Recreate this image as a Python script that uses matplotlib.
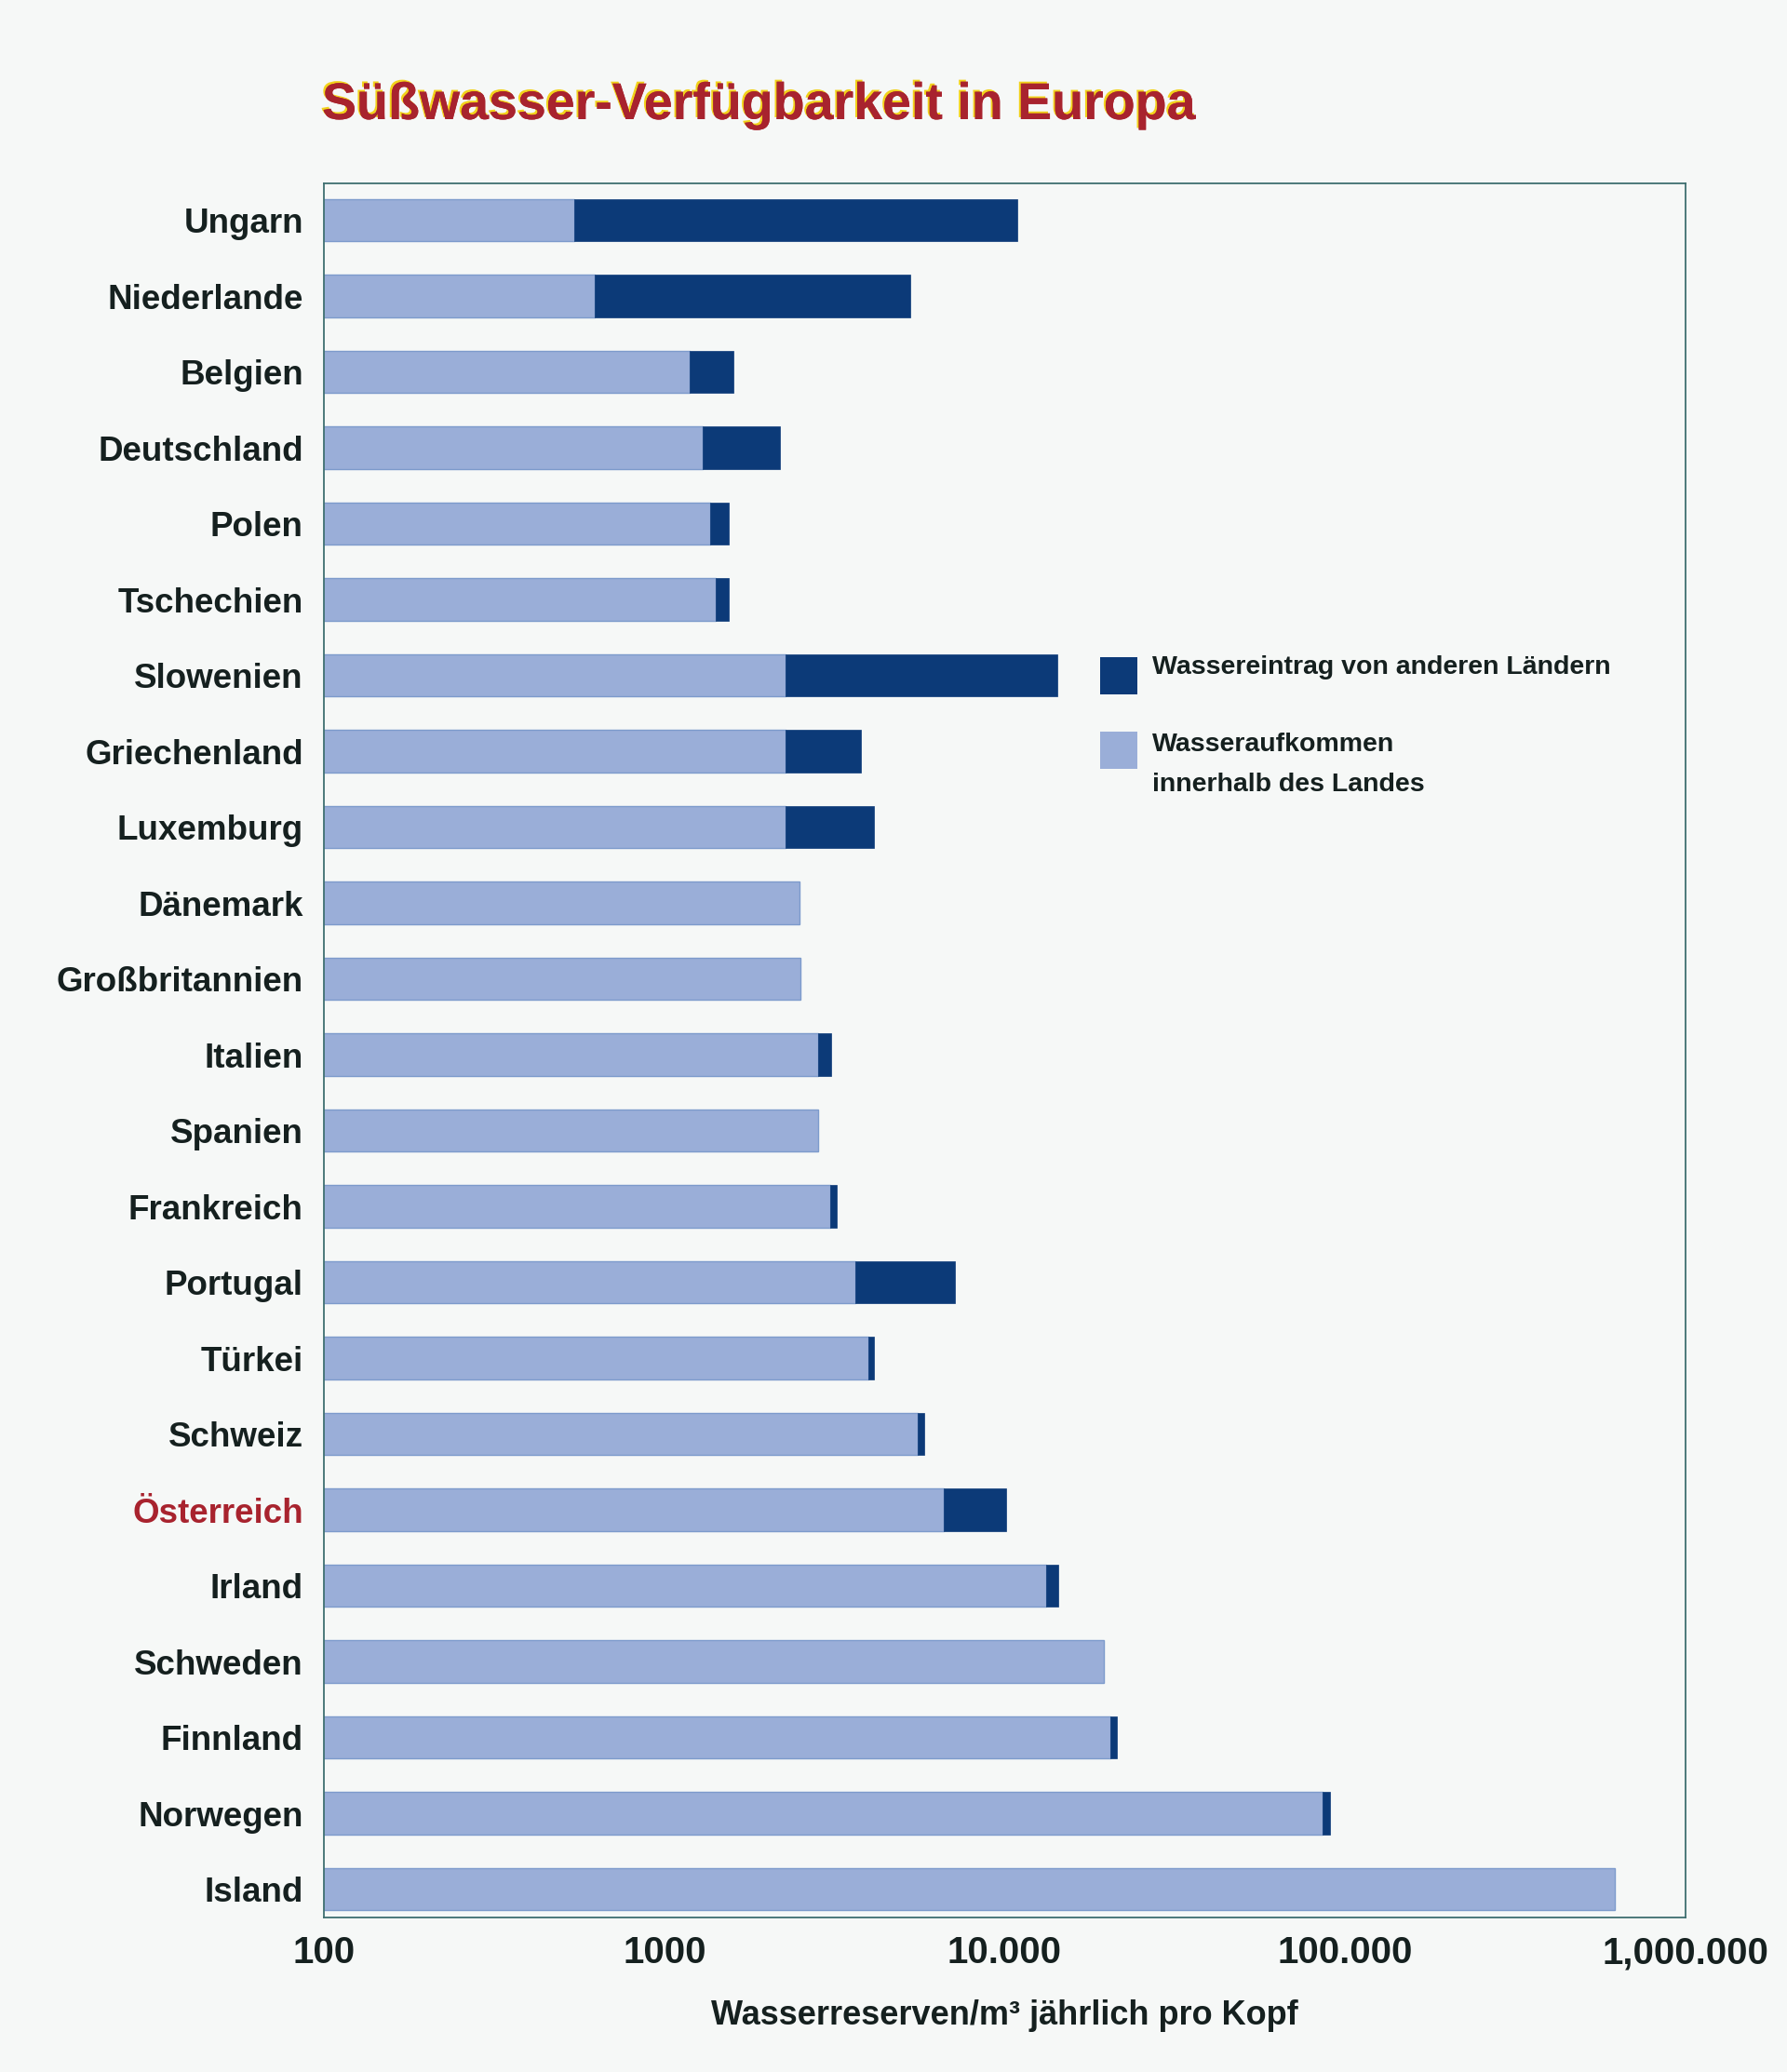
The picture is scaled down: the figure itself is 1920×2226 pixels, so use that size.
import matplotlib
matplotlib.use("Agg")
import matplotlib.pyplot as plt
import matplotlib.patheffects as pe
from matplotlib.patches import Rectangle
import numpy as np

# ---------------- data ----------------
countries = ["Ungarn", "Niederlande", "Belgien", "Deutschland", "Polen", "Tschechien",
             "Slowenien", "Griechenland", "Luxemburg", "Dänemark", "Großbritannien",
             "Italien", "Spanien", "Frankreich", "Portugal", "Türkei", "Schweiz",
             "Österreich", "Irland", "Schweden", "Finnland", "Norwegen", "Island"]
internal = [545, 625, 1190, 1300, 1365, 1420, 2265, 2265, 2265, 2490, 2510,
            2830, 2830, 3070, 3640, 3975, 5560, 6630, 13200, 19500, 20400, 85700, 618000]
total = [10860, 5280, 1600, 2180, 1550, 1550, 14250, 3780, 4130, 2490, 2510,
         3090, 2830, 3210, 7150, 4130, 5810, 10120, 14400, 19500, 21300, 90100, 618000]
xtick_values = [100, 1000, 10000, 100000, 1000000]
xtick_labels = ["100", "1000", "10.000", "100.000", "1,000.000"]

title = "Süßwasser-Verfügbarkeit in Europa"
xlabel = "Wasserreserven/m³ jährlich pro Kopf"
legend_ext = "Wassereintrag von anderen Ländern"
legend_int = ["Wasseraufkommen", "innerhalb des Landes"]
highlight = "Österreich"

# ---------------- style ----------------
DARK = "#0c3a78"
LIGHT = "#9aaed8"
LIGHT_EDGE = "#7d9bcc"
RED = "#a8232e"
INK = "#15201f"
FRAME = "#3f6f70"
BG = "#f6f8f7"

NARROW = ["Liberation Sans Narrow", "Liberation Sans", "DejaVu Sans"]
REGULAR = ["Liberation Sans", "DejaVu Sans"]

W, H = 1920, 2226
fig = plt.figure(figsize=(W / 100, H / 100), dpi=100, facecolor=BG)

ax_left, ax_right = 348 / W, 1811 / W
ax_top, ax_bottom = 1 - 197 / H, 1 - 2060 / H
ax = fig.add_axes([ax_left, ax_bottom, ax_right - ax_left, ax_top - ax_bottom])
ax.set_facecolor(BG)

y = np.arange(len(countries))
internal_a = np.array(internal, dtype=float)
total_a = np.array(total, dtype=float)
external_a = total_a - internal_a

ax.set_xscale("log")
ax.barh(y, internal_a, height=0.56, color=LIGHT, edgecolor=LIGHT_EDGE, linewidth=1.0)
mask = external_a > 0
ax.barh(y[mask], external_a[mask], left=internal_a[mask], height=0.56,
        color=DARK, edgecolor=DARK, linewidth=0.5)

ax.set_xlim(100, 1000000)
ax.set_ylim(22 + 0.374, -0.485)

ax.set_xticks(xtick_values)
ax.set_xticklabels(xtick_labels, fontsize=29, fontweight="bold", family=NARROW, color=INK)
ax.xaxis.set_minor_locator(matplotlib.ticker.NullLocator())
ax.tick_params(axis="x", length=0, pad=14)

ax.set_yticks(y)
ax.set_yticklabels(countries, fontsize=26.5, fontweight="bold", family=NARROW, color=INK)
ax.tick_params(axis="y", length=0, pad=16)
for lbl in ax.get_yticklabels():
    if lbl.get_text() == highlight:
        lbl.set_color(RED)

for sp in ax.spines.values():
    sp.set_color(FRAME)
    sp.set_linewidth(1.3)

ax.set_xlabel(xlabel, fontsize=26, fontweight="bold", family=REGULAR, color=INK, labelpad=22)

# title
fig.text(346 / W, 1 - 128 / H, title, fontsize=40, fontweight="bold", family=NARROW,
         color=RED, ha="left", va="baseline",
         path_effects=[pe.withSimplePatchShadow(offset=(-1.5, 1.5), shadow_rgbFace="#f2d21b", alpha=1.0),
                       pe.Normal()])

# legend (manual)
sq = 40
fig.add_artist(Rectangle((1182 / W, 1 - 746 / H), sq / W, sq / H, transform=fig.transFigure,
                         facecolor=DARK, edgecolor="none"))
fig.add_artist(Rectangle((1182 / W, 1 - 826 / H), sq / W, sq / H, transform=fig.transFigure,
                         facecolor=LIGHT, edgecolor="none"))
fig.text(1238 / W, 1 - 724 / H, legend_ext, fontsize=20.5, fontweight="bold", family=REGULAR,
         color=INK, ha="left", va="baseline")
fig.text(1238 / W, 1 - 807 / H, legend_int[0], fontsize=20.5, fontweight="bold", family=REGULAR,
         color=INK, ha="left", va="baseline")
fig.text(1238 / W, 1 - 850 / H, legend_int[1], fontsize=20.5, fontweight="bold", family=REGULAR,
         color=INK, ha="left", va="baseline")

fig.savefig("out.png", dpi=100, facecolor=BG)
